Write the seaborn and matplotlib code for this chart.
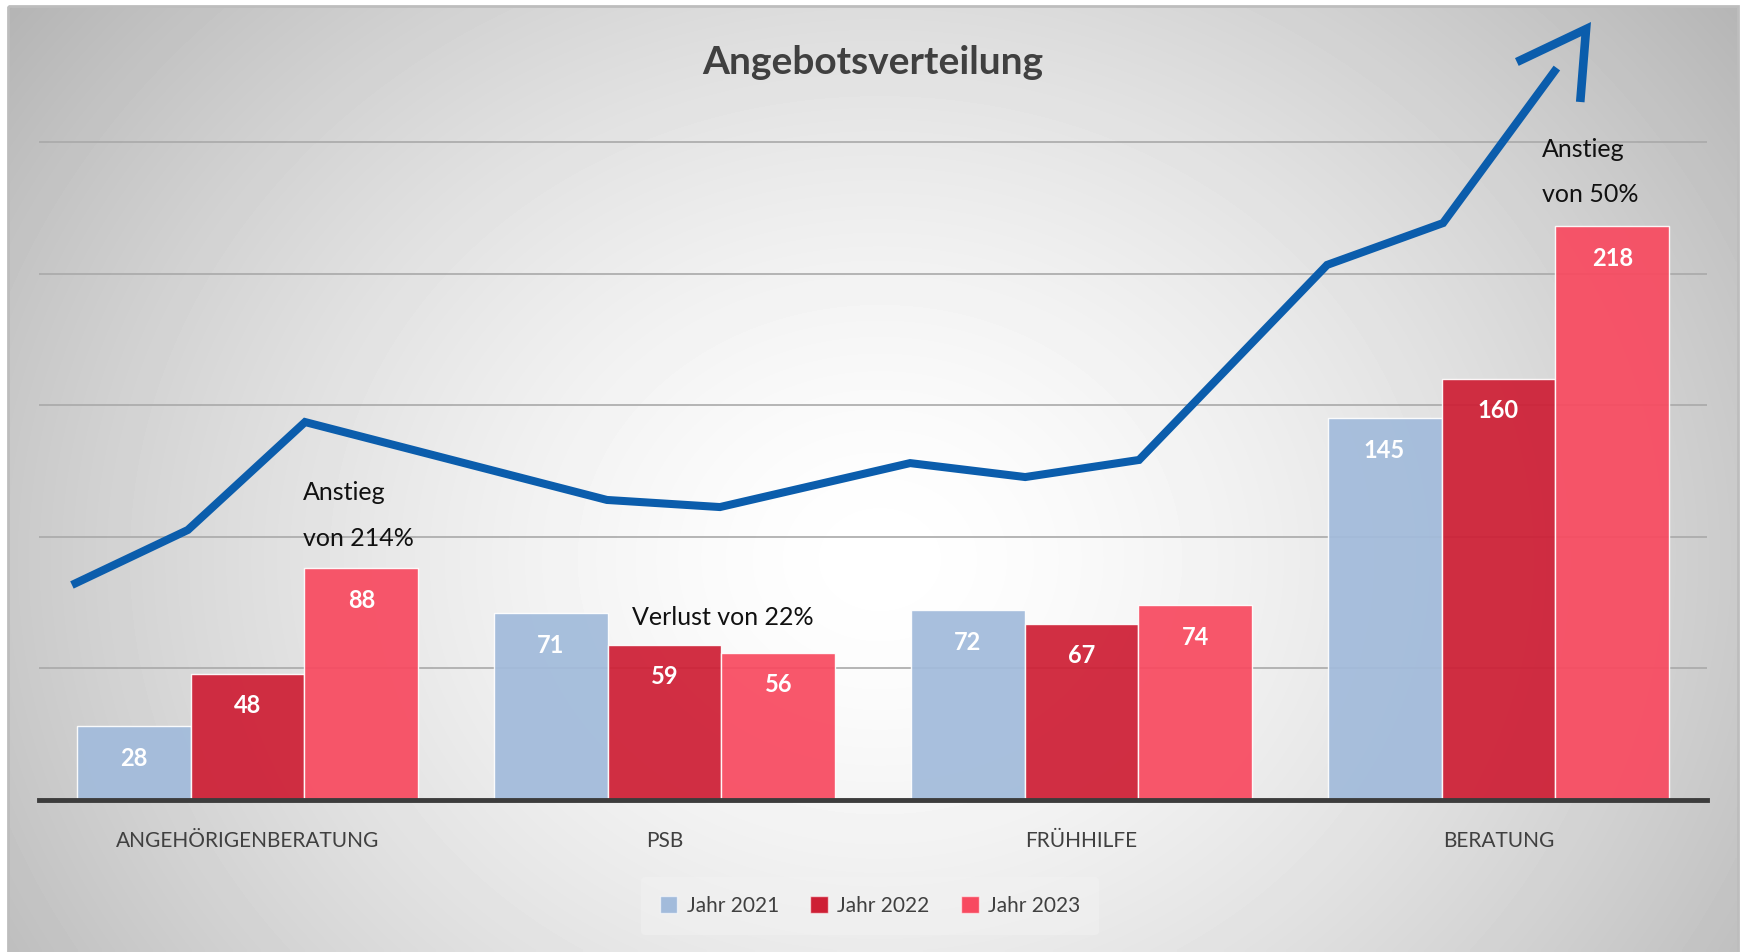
import numpy as np
import pandas as pd
import matplotlib
matplotlib.use("Agg")
import matplotlib.pyplot as plt
from matplotlib.patches import Rectangle
import seaborn as sns

# ---- data ----
categories = ["ANGEHÖRIGENBERATUNG", "PSB", "FRÜHHILFE", "BERATUNG"]
years = ["Jahr 2021", "Jahr 2022", "Jahr 2023"]
values_2021 = [28, 71, 72, 145]
values_2022 = [48, 59, 67, 160]
values_2023 = [88, 56, 74, 218]
colors = ["#A2BBDB", "#CE1F35", "#F84A60"]

# decorative trend line (data units: x = category position, y = value)
trend_x = [-0.421, -0.143, 0.138, 0.862, 1.133, 1.589, 1.865, 2.138, 2.589, 2.867, 3.140]
trend_y = [81.7, 102.6, 143.6, 114.0, 111.3, 128.0, 122.7, 129.2, 203.3, 219.2, 278.1]
arrow_x = [3.044, 3.210, 3.196]
arrow_y = [280.4, 292.9, 265.2]

annotations = [
    ("Anstieg", 0.133, 114.0),
    ("von 214%", 0.133, 96.5),
    ("Verlust von 22%", 0.922, 66.5),
    ("Anstieg", 3.104, 244.3),
    ("von 50%", 3.104, 227.2),
]

df = pd.DataFrame({
    "Kategorie": categories * 3,
    "Jahr": [years[0]] * 4 + [years[1]] * 4 + [years[2]] * 4,
    "Wert": values_2021 + values_2022 + values_2023,
})

plt.rcParams["font.family"] = ["Lato", "DejaVu Sans"]

W, H = 1741, 952
fig = plt.figure(figsize=(W / 100, H / 100), dpi=100)
fig.patch.set_facecolor("white")

# ---- background gradient ----
bg = fig.add_axes([0, 0, 1, 1], zorder=-10)
bg.set_xlim(0, W)
bg.set_ylim(H, 0)
bg.axis("off")
xx, yy = np.meshgrid(np.linspace(8, 1738, 400), np.linspace(6, 952, 220))
r = np.sqrt(((xx - 880) / 900) ** 2 + ((yy - 560) / 760) ** 2)
val = 1.0 - 0.22 * np.clip(r, 0, 1.4) ** 1.5
bg.imshow(val, extent=[8, 1738, 952, 6], cmap="gray", vmin=0, vmax=1,
          aspect="auto", interpolation="bilinear")
bg.add_patch(Rectangle((8, 6), 1730, 950, fill=False, edgecolor="#bdbdbd", lw=2))

# ---- main axes ----
ax_left = 39 / W
ax_bottom = (H - 800) / H
ymax = 260
ax_h = ymax * 2.632 / H
ax = fig.add_axes([ax_left, ax_bottom, 1668 / W, ax_h])
ax.patch.set_visible(False)

sns.barplot(data=df, x="Kategorie", y="Wert", hue="Jahr", order=categories,
            hue_order=years, palette=colors, saturation=1, width=0.82, gap=0,
            alpha=0.93, edgecolor=(1, 1, 1, 0.55), linewidth=1.0, legend=False,
            ax=ax, errorbar=None, zorder=2)

ax.set_xlim(-0.5, 3.5)
ax.set_ylim(0, ymax)
ax.set_yticks([50, 100, 150, 200, 250])
ax.set_yticklabels([])
ax.yaxis.grid(True, color="#a9a9a9", lw=1.2)
ax.set_axisbelow(True)
ax.tick_params(axis="both", length=0)
ax.tick_params(axis="x", pad=22, labelsize=15, labelcolor="#404040")
ax.set_xlabel("")
ax.set_ylabel("")
for s in ["top", "left", "right"]:
    ax.spines[s].set_visible(False)
ax.spines["bottom"].set_color("#3c3c3c")
ax.spines["bottom"].set_linewidth(3.5)

# value labels inside bars
for cont in ax.containers:
    for p in cont:
        h = p.get_height()
        ax.annotate(f"{int(round(h))}", (p.get_x() + p.get_width() / 2, h),
                    xytext=(0, -23), textcoords="offset points", ha="center",
                    va="center", color="white", fontsize=17, fontweight="bold",
                    zorder=5)

# decorative trend line with arrow head
ax.plot(trend_x, trend_y, color="#0B5DAC", lw=5.8, solid_joinstyle="miter",
        solid_capstyle="butt", clip_on=False, zorder=4)
ax.plot(arrow_x, arrow_y, color="#0B5DAC", lw=6.2, solid_joinstyle="miter",
        solid_capstyle="butt", clip_on=False, zorder=4)

for txt, x, y in annotations:
    ax.text(x, y, txt, ha="left", va="baseline", fontsize=18, color="#111111",
            zorder=6)

# title
fig.text(873 / W, 1 - 62 / H, "Angebotsverteilung", ha="center", va="center",
         fontsize=28, fontweight="bold", color="#404040")

# legend
handles = [Rectangle((0, 0), 1, 1, facecolor=c, edgecolor=(1, 1, 1, 0.6), lw=1)
           for c in colors]
leg = fig.legend(handles, years, loc="center", bbox_to_anchor=(870 / W, 1 - 906 / H),
                 ncol=3, fontsize=15, frameon=True, handlelength=0.85,
                 handleheight=0.85, handletextpad=0.45, columnspacing=1.5,
                 borderpad=0.9, labelcolor="#404040")
leg.get_frame().set_facecolor("#f2f2f2")
leg.get_frame().set_edgecolor("none")
leg.get_frame().set_alpha(0.5)

fig.savefig("out.png", dpi=100)
